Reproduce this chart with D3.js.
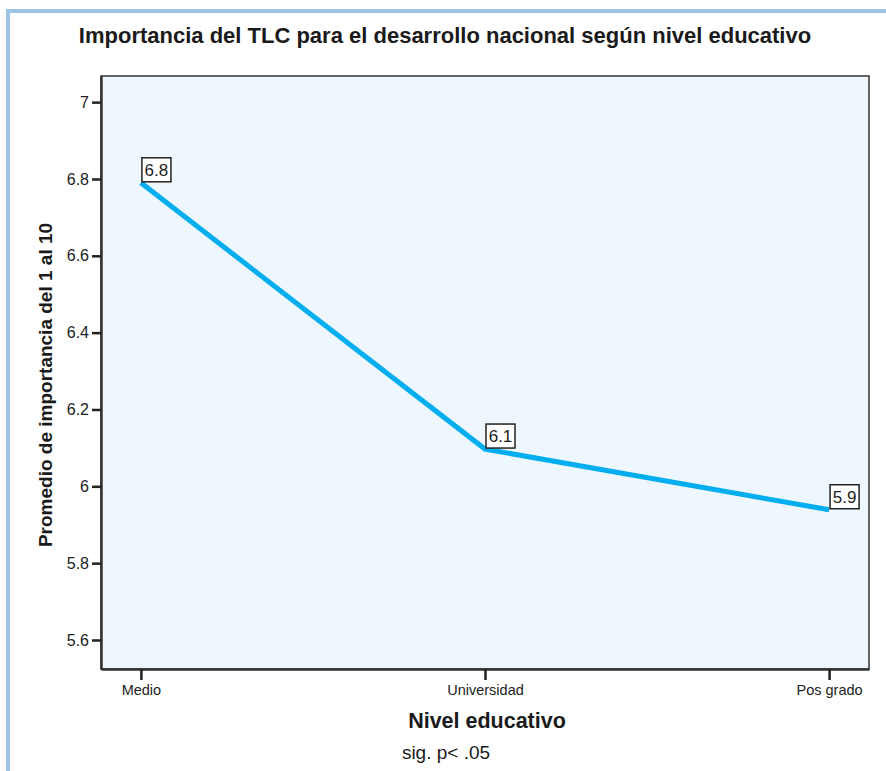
<!DOCTYPE html>
<html><head><meta charset="utf-8">
<script src="https://cdn.jsdelivr.net/npm/d3@7"></script>
<style>body{margin:0;background:#fff;}svg{display:block;font-family:"Liberation Sans",Arial,sans-serif;}</style>
</head><body>
<script>
const categories = ["Medio", "Universidad", "Pos grado"];
const values = [6.79, 6.097, 5.939];
const valueLabels = ["6.8", "6.1", "5.9"];
const yTicks = [5.6, 5.8, 6, 6.2, 6.4, 6.6, 6.8, 7];
const yTickLabels = ["5.6", "5.8", "6", "6.2", "6.4", "6.6", "6.8", "7"];

const W = 886, H = 771;
const plot = {left: 101, right: 869, top: 76, bottom: 669};
const svg = d3.select("body").append("svg").attr("width", W).attr("height", H);

// frame
svg.append("rect").attr("x", 6).attr("y", 9).attr("width", 4).attr("height", H - 9).attr("fill", "#9dc3e6");
svg.append("rect").attr("x", 6).attr("y", 9).attr("width", W - 6).attr("height", 4).attr("fill", "#9dc3e6");

const x = d3.scalePoint().domain(categories).range([plot.left, plot.right]).padding(0.116);
const y = d3.scaleLinear().domain([5.5245, 7.068]).range([plot.bottom, plot.top]);

svg.append("rect").attr("x", plot.left).attr("y", plot.top)
  .attr("width", plot.right - plot.left).attr("height", plot.bottom - plot.top)
  .attr("fill", "#edf7fd").attr("stroke", "#333").attr("stroke-width", 1.5);

// y axis
const yAxis = svg.append("g").attr("transform", `translate(${plot.left},0)`)
  .call(d3.axisLeft(y).tickValues(yTicks).tickFormat((d, i) => yTickLabels[i]).tickSizeInner(9).tickSizeOuter(0).tickPadding(3));
yAxis.select(".domain").attr("stroke", "#333").attr("stroke-width", 2.5);
yAxis.selectAll(".tick line").attr("stroke", "#222").attr("stroke-width", 2.5);
yAxis.selectAll(".tick text").attr("font-size", 16).attr("fill", "#222").attr("font-family", "Liberation Sans, Arial, sans-serif");

// x axis
const xAxis = svg.append("g").attr("transform", `translate(0,${plot.bottom})`)
  .call(d3.axisBottom(x).tickSizeInner(11).tickSizeOuter(0).tickPadding(5));
xAxis.select(".domain").attr("stroke", "#333").attr("stroke-width", 2.5);
xAxis.selectAll(".tick line").attr("stroke", "#222").attr("stroke-width", 2.5);
xAxis.selectAll(".tick text").attr("font-size", 14.5).attr("fill", "#222").attr("font-family", "Liberation Sans, Arial, sans-serif");

// line
const data = categories.map((c, i) => ({c, v: values[i], l: valueLabels[i]}));
svg.append("path").datum(data)
  .attr("d", d3.line().x(d => x(d.c)).y(d => y(d.v)))
  .attr("fill", "none").attr("stroke", "#00aeef").attr("stroke-width", 5).attr("stroke-linejoin", "miter");

// value labels
const lab = svg.selectAll(".vl").data(data).enter().append("g")
  .attr("transform", d => `translate(${x(d.c)},${y(d.v)})`);
lab.append("rect").attr("x", 1).attr("y", -25).attr("width", 29).attr("height", 24)
  .attr("fill", "#fff").attr("stroke", "#222").attr("stroke-width", 1.5);
lab.append("text").attr("x", 15.5).attr("y", -7).attr("text-anchor", "middle")
  .attr("font-size", 17).attr("fill", "#222").text(d => d.l);

// titles
svg.append("text").attr("x", 445).attr("y", 43).attr("text-anchor", "middle")
  .attr("font-size", 22).attr("font-weight", "bold").attr("fill", "#1a1a1a")
  .text("Importancia del TLC para el desarrollo nacional según nivel educativo");
svg.append("text").attr("x", 487).attr("y", 728).attr("text-anchor", "middle")
  .attr("font-size", 21.5).attr("font-weight", "bold").attr("fill", "#1a1a1a").text("Nivel educativo");
svg.append("text").attr("x", 446).attr("y", 759).attr("text-anchor", "middle")
  .attr("font-size", 19).attr("fill", "#1a1a1a").text("sig. p< .05");
svg.append("text").attr("transform", "translate(52,385) rotate(-90)").attr("text-anchor", "middle")
  .attr("font-size", 19).attr("font-weight", "bold").attr("fill", "#1a1a1a")
  .text("Promedio de importancia del 1 al 10");
</script>
</body></html>
